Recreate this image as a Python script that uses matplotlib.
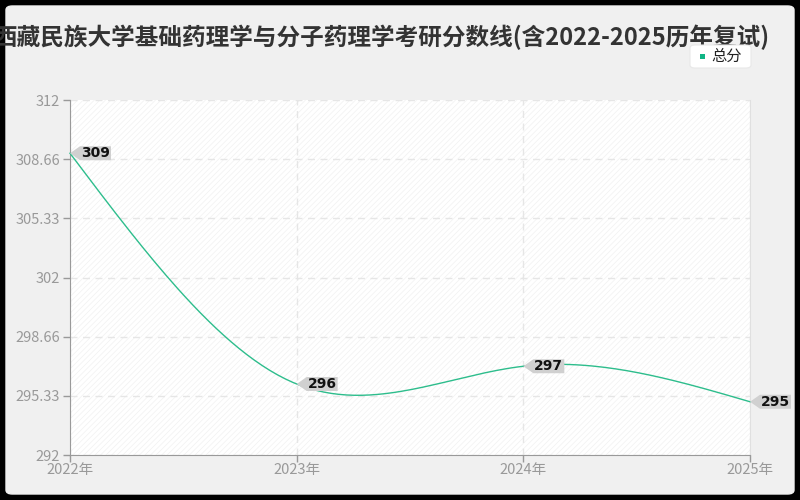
import numpy as np
import matplotlib
matplotlib.use("Agg")
import matplotlib.pyplot as plt
import matplotlib.transforms as mtransforms
from matplotlib.patches import Polygon, FancyBboxPatch, Rectangle

plt.rcParams['font.family'] = ['Noto Sans CJK SC', 'DejaVu Sans']
plt.rcParams['hatch.linewidth'] = 0.5

title = "西藏民族大学基础药理学与分子药理学考研分数线(含2022-2025历年复试)"
years = ["2022年", "2023年", "2024年", "2025年"]
scores = [309, 296, 297, 295]
yticks = [292, 295.33, 298.66, 302, 305.33, 308.66, 312]
ytick_labels = ["292", "295.33", "298.66", "302", "305.33", "308.66", "312"]
series_name = "总分"

line_color = "#2dbd8c"

fig = plt.figure(figsize=(8, 5), dpi=100)
fig.patch.set_facecolor("#000000")
panel = FancyBboxPatch((6 / 800, 6 / 500), 788 / 800, 488 / 500,
                       boxstyle="round,pad=0,rounding_size=0.008",
                       transform=fig.transFigure, facecolor="#f0f0f0",
                       edgecolor="#f0f0f0", zorder=-10)
fig.patches.append(panel)

ax = fig.add_axes([70 / 800, 45 / 500, 680 / 800, 355 / 500])
ax.set_facecolor("white")
ax.add_patch(Rectangle((0, 0), 1, 1, transform=ax.transAxes, facecolor="none",
                       edgecolor="#f1f1f1", hatch="//////", linewidth=0, zorder=0))

x = np.arange(len(scores), dtype=float)
y = np.array(scores, dtype=float)

# natural cubic spline through the data points
n = len(x)
h = np.diff(x)
A = np.zeros((n, n))
b = np.zeros(n)
A[0, 0] = 1
A[-1, -1] = 1
for i in range(1, n - 1):
    A[i, i - 1] = h[i - 1]
    A[i, i] = 2 * (h[i - 1] + h[i])
    A[i, i + 1] = h[i]
    b[i] = 3 * ((y[i + 1] - y[i]) / h[i] - (y[i] - y[i - 1]) / h[i - 1])
c = np.linalg.solve(A, b)
xs, ys = [], []
for i in range(n - 1):
    bi = (y[i + 1] - y[i]) / h[i] - h[i] * (2 * c[i] + c[i + 1]) / 3
    di = (c[i + 1] - c[i]) / (3 * h[i])
    t = np.linspace(0, h[i], 60)
    xs.append(x[i] + t)
    ys.append(y[i] + bi * t + c[i] * t ** 2 + di * t ** 3)
xs = np.concatenate(xs)
ys = np.concatenate(ys)

ax.plot(xs, ys, color=line_color, linewidth=1.0, zorder=3, clip_on=False)

ax.set_xlim(0, len(scores) - 1)
ax.set_ylim(yticks[0], yticks[-1])
ax.set_yticks(yticks)
ax.set_yticklabels(ytick_labels)
ax.set_xticks(x)
ax.set_xticklabels(years)

ax.grid(True, color="#e6e6e6", linestyle=(0, (5, 4)), linewidth=1.0, zorder=1)
ax.set_axisbelow(True)
ax.spines["top"].set_visible(False)
ax.spines["right"].set_color("#e0e0e0")
ax.spines["left"].set_color("#999999")
ax.spines["bottom"].set_color("#999999")
ax.tick_params(axis="both", colors="#999999", labelcolor="#999999",
               labelsize=10.5, length=5, width=1)
ax.tick_params(axis="x", pad=1)
ax.tick_params(axis="y", pad=2)

# value labels with left-pointing callouts
for xi, yi in zip(x, scores):
    tr = mtransforms.Affine2D() + mtransforms.ScaledTranslation(xi, yi, ax.transData)
    verts = [(0, 0), (10, 7), (41, 7), (41, -7), (10, -7)]
    ax.add_patch(Polygon(verts, closed=True, transform=tr, facecolor="#d0d0d0",
                         edgecolor="none", zorder=5, clip_on=False))
    ax.annotate(str(yi), xy=(xi, yi), xytext=(25.5 * 0.72, 0), textcoords="offset points",
                ha="center", va="center", fontsize=10, fontweight="bold",
                color="#111111", zorder=6, annotation_clip=False,
                family=["DejaVu Sans"])

fig.text(382 / 800, 1 - 37 / 500, title, ha="center", va="center",
         fontsize=17, fontweight="bold", color="#333333")

# legend
leg = FancyBboxPatch((690 / 800, 1 - 68 / 500), 61 / 800, 23 / 500,
                     boxstyle="round,pad=0,rounding_size=0.006",
                     transform=fig.transFigure, facecolor="white",
                     edgecolor="#e8e8e8", linewidth=0.8, zorder=5)
fig.patches.append(leg)
fig.patches.append(Rectangle((700 / 800, 1 - 59 / 500), 5 / 800, 5 / 500,
                             transform=fig.transFigure, facecolor="#10b585",
                             edgecolor="none", zorder=6))
fig.text(711 / 800, 1 - 56 / 500, series_name, ha="left", va="center",
         fontsize=11, color="#222222", zorder=7)

fig.savefig("out.png", dpi=100, facecolor=fig.get_facecolor())
